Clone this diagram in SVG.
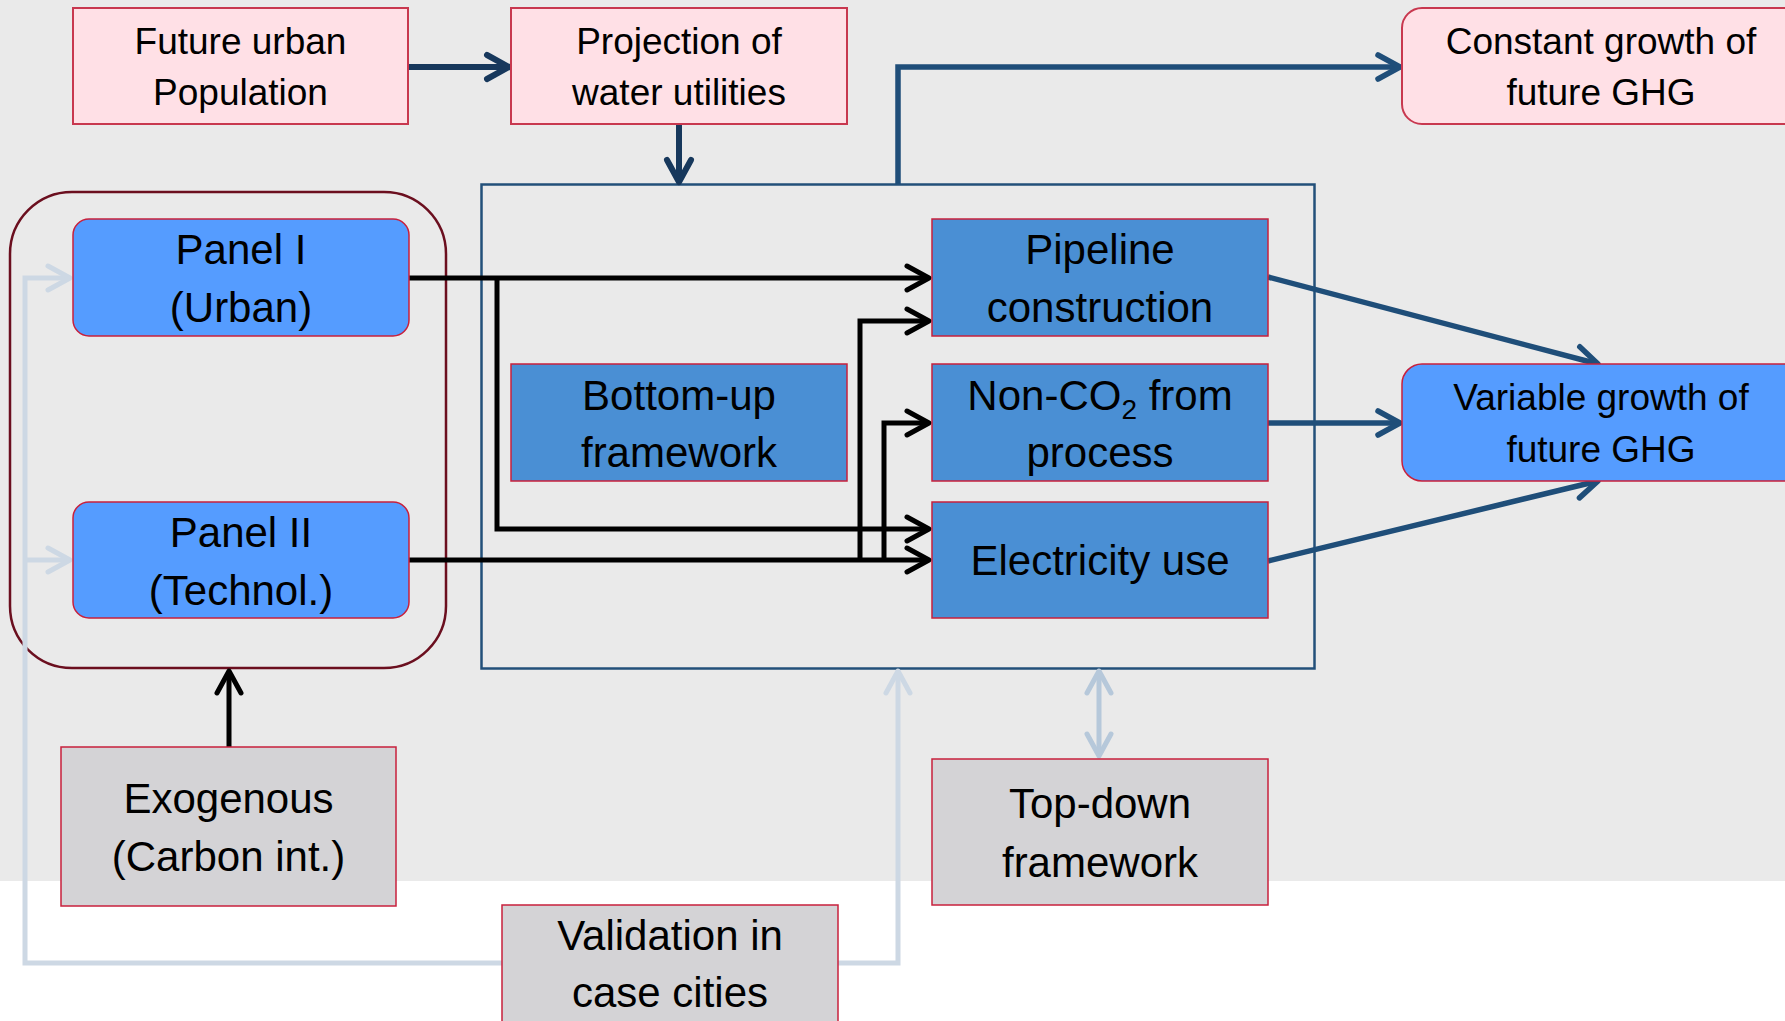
<svg xmlns="http://www.w3.org/2000/svg" width="1785" height="1021" viewBox="0 0 1785 1021">
  <style>
    .t { font-family: "Liberation Sans", Arial, sans-serif; fill: #000; text-anchor: middle; }
    .sm { font-size: 37px; }
    .lg { font-size: 42px; }
    .pink { fill: #FFE0E6; stroke: #C8384F; stroke-width: 2; }
    .panel { fill: #559CFF; stroke: #C8203C; stroke-width: 1.5; }
    .frame { fill: #4A8FD4; stroke: #C8203C; stroke-width: 1.5; }
    .grey { fill: #D4D3D6; stroke: #C8203C; stroke-width: 1.5; }
    .navy { fill: none; stroke: #17385C; stroke-width: 6; }
    .blue { fill: none; stroke: #1F4E79; stroke-width: 5.5; }
    .black { fill: none; stroke: #000; stroke-width: 5; }
    .light { fill: none; stroke: #CDD8E4; stroke-width: 5; }
    .light2 { fill: none; stroke: #B6C8DA; stroke-width: 5; }
  </style>
  <defs>
    <marker id="hNavy" markerUnits="userSpaceOnUse" markerWidth="40" markerHeight="40" viewBox="-30 -20 40 40" refX="0" refY="0" orient="auto" overflow="visible">
      <path d="M-22,-12 L0,0 L-22,12" fill="none" stroke="#17385C" stroke-width="6" stroke-linecap="round" stroke-linejoin="round"/>
    </marker>
    <marker id="hBlue" markerUnits="userSpaceOnUse" markerWidth="40" markerHeight="40" viewBox="-30 -20 40 40" refX="0" refY="0" orient="auto" overflow="visible">
      <path d="M-22,-12 L0,0 L-22,12" fill="none" stroke="#1F4E79" stroke-width="5.5" stroke-linecap="round" stroke-linejoin="round"/>
    </marker>
    <marker id="hBlack" markerUnits="userSpaceOnUse" markerWidth="40" markerHeight="40" viewBox="-30 -20 40 40" refX="0" refY="0" orient="auto" overflow="visible">
      <path d="M-22,-12 L0,0 L-22,12" fill="none" stroke="#000" stroke-width="5" stroke-linecap="round" stroke-linejoin="round"/>
    </marker>
    <marker id="hLight" markerUnits="userSpaceOnUse" markerWidth="40" markerHeight="40" viewBox="-30 -20 40 40" refX="0" refY="0" orient="auto" overflow="visible">
      <path d="M-22,-12 L0,0 L-22,12" fill="none" stroke="#CDD8E4" stroke-width="5" stroke-linecap="round" stroke-linejoin="round"/>
    </marker>
    <marker id="hLight2" markerUnits="userSpaceOnUse" markerWidth="40" markerHeight="40" viewBox="-30 -20 40 40" refX="0" refY="0" orient="auto-start-reverse" overflow="visible">
      <path d="M-22,-12 L0,0 L-22,12" fill="none" stroke="#B6C8DA" stroke-width="5" stroke-linecap="round" stroke-linejoin="round"/>
    </marker>
  </defs>

  <!-- backdrop -->
  <rect x="0" y="0" width="1785" height="1021" fill="#FFFFFF"/>
  <rect x="0" y="0" width="1785" height="881" fill="#EAEAEA"/>

  <!-- enclosing frames -->
  <g id="panel-group">
    <rect x="10" y="192" width="436" height="476" rx="62" ry="62" fill="none" stroke="#6B0F1F" stroke-width="2.5"/>
  </g>
  <g id="model-frame">
    <rect x="481.5" y="184.5" width="833" height="484" fill="none" stroke="#23507A" stroke-width="2.5"/>
  </g>

  <!-- connectors -->
  <g id="connectors">
    <path class="navy" d="M409,67 H509" marker-end="url(#hNavy)"/>
    <path class="navy" d="M679,124 V182" marker-end="url(#hNavy)"/>
    <path class="blue" d="M898,184 V67 H1400" marker-end="url(#hBlue)"/>

    <path class="blue" d="M1268,277 L1598,364" marker-end="url(#hBlue)"/>
    <path class="blue" d="M1268,423 H1400" marker-end="url(#hBlue)"/>
    <path class="blue" d="M1268,561 L1598,481" marker-end="url(#hBlue)"/>

    <path class="black" d="M409,278 H929" marker-end="url(#hBlack)"/>
    <path class="black" d="M497,278 V529 H929" marker-end="url(#hBlack)"/>
    <path class="black" d="M409,560 H929" marker-end="url(#hBlack)"/>
    <path class="black" d="M860,560 V321 H929" marker-end="url(#hBlack)"/>
    <path class="black" d="M884,560 V423 H929" marker-end="url(#hBlack)"/>
    <path class="black" d="M229,747 V671" marker-end="url(#hBlack)"/>

    <path class="light" d="M502,963 H25 V278 H70" marker-end="url(#hLight)"/>
    <path class="light" d="M25,560 H70" marker-end="url(#hLight)"/>
    <path class="light" d="M838,963 H898 V671" marker-end="url(#hLight)"/>
    <path class="light2" d="M1099,671 V756" marker-start="url(#hLight2)" marker-end="url(#hLight2)"/>
  </g>

  <!-- nodes -->
  <g id="future-population">
    <rect class="pink" x="73" y="8" width="335" height="116"/>
    <text class="t sm" x="240.5" y="54">Future urban</text>
    <text class="t sm" x="240.5" y="105">Population</text>
  </g>
  <g id="projection">
    <rect class="pink" x="511" y="8" width="336" height="116"/>
    <text class="t sm" x="679" y="54">Projection of</text>
    <text class="t sm" x="679" y="105">water utilities</text>
  </g>
  <g id="constant-growth">
    <rect class="pink" x="1402" y="8" width="420" height="116" rx="20" ry="20"/>
    <text class="t sm" x="1601" y="54">Constant growth of</text>
    <text class="t sm" x="1601" y="105">future GHG</text>
  </g>
  <g id="panel-1">
    <rect class="panel" x="73" y="219" width="336" height="117" rx="16" ry="16"/>
    <text class="t lg" x="241" y="264">Panel I</text>
    <text class="t lg" x="241" y="322">(Urban)</text>
  </g>
  <g id="panel-2">
    <rect class="panel" x="73" y="502" width="336" height="116" rx="16" ry="16"/>
    <text class="t lg" x="241" y="547">Panel II</text>
    <text class="t lg" x="241" y="605">(Technol.)</text>
  </g>
  <g id="bottom-up">
    <rect class="frame" x="511" y="364" width="336" height="117"/>
    <text class="t lg" x="679" y="410">Bottom-up</text>
    <text class="t lg" x="679" y="467">framework</text>
  </g>
  <g id="pipeline">
    <rect class="frame" x="932" y="219" width="336" height="117"/>
    <text class="t lg" x="1100" y="264">Pipeline</text>
    <text class="t lg" x="1100" y="322">construction</text>
  </g>
  <g id="non-co2">
    <rect class="frame" x="932" y="364" width="336" height="117"/>
    <text class="t lg" x="1100" y="410">Non-CO<tspan font-size="28" dy="9">2</tspan><tspan dy="-9"> from</tspan></text>
    <text class="t lg" x="1100" y="467">process</text>
  </g>
  <g id="electricity">
    <rect class="frame" x="932" y="502" width="336" height="116"/>
    <text class="t lg" x="1100" y="575">Electricity use</text>
  </g>
  <g id="variable-growth">
    <rect class="panel" x="1402" y="364" width="420" height="117" rx="20" ry="20"/>
    <text class="t sm" x="1601" y="410">Variable growth of</text>
    <text class="t sm" x="1601" y="462">future GHG</text>
  </g>
  <g id="exogenous">
    <rect class="grey" x="61" y="747" width="335" height="159"/>
    <text class="t lg" x="228.5" y="813">Exogenous</text>
    <text class="t lg" x="228.5" y="871">(Carbon int.)</text>
  </g>
  <g id="top-down">
    <rect class="grey" x="932" y="759" width="336" height="146"/>
    <text class="t lg" x="1100" y="818">Top-down</text>
    <text class="t lg" x="1100" y="877">framework</text>
  </g>
  <g id="validation">
    <rect class="grey" x="502" y="905" width="336" height="130"/>
    <text class="t lg" x="670" y="950">Validation in</text>
    <text class="t lg" x="670" y="1007">case cities</text>
  </g>
</svg>
